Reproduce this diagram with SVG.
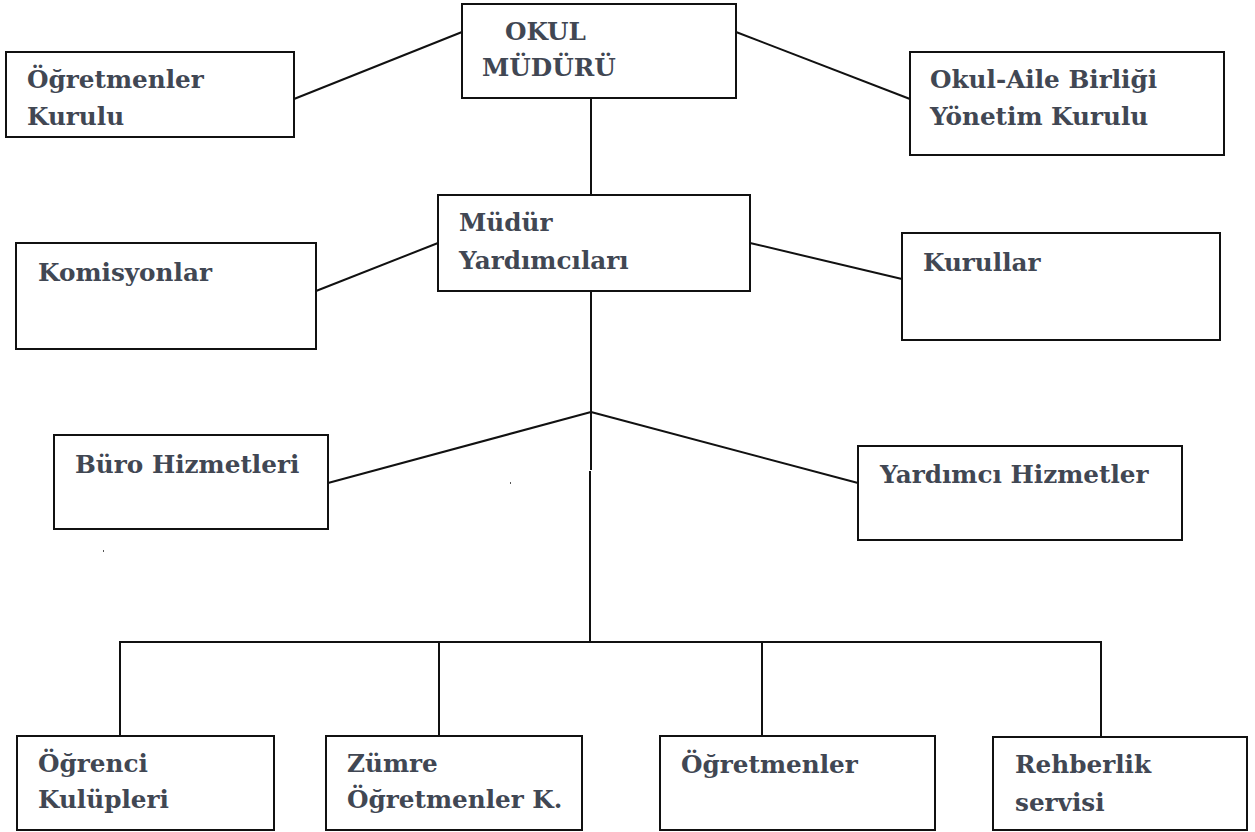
<svg xmlns="http://www.w3.org/2000/svg" width="1255" height="832" viewBox="0 0 1255 832">
<style>
.box{fill:#fff;stroke:#111;stroke-width:2}
.ln{stroke:#111;stroke-width:2;fill:none}
.t{font-family:"DejaVu Serif","Liberation Serif",serif;font-weight:bold;font-size:24.7px;fill:#414753}
</style>
<rect width="1255" height="832" fill="#fff"/>
<g id="connectors">
<line class="ln" x1="462" y1="32" x2="294" y2="99"/>
<line class="ln" x1="736" y1="32" x2="910" y2="99"/>
<line class="ln" x1="591" y1="98" x2="591" y2="195"/>
<line class="ln" x1="438" y1="243" x2="316" y2="291"/>
<line class="ln" x1="750" y1="243" x2="902" y2="279"/>
<line class="ln" x1="591" y1="279" x2="591" y2="470"/>
<line class="ln" x1="590" y1="471" x2="590" y2="642"/>
<line class="ln" x1="591" y1="412" x2="328" y2="483"/>
<line class="ln" x1="591" y1="412" x2="858" y2="483"/>
<polyline class="ln" points="120,736 120,642 1101,642 1101,737"/>
<line class="ln" x1="439" y1="642" x2="439" y2="735"/>
<line class="ln" x1="762" y1="642" x2="762" y2="736"/>
</g>
<g id="okul-muduru">
<rect class="box" x="462" y="4" width="274" height="94"/>
<text class="t" x="505" y="40">OKUL</text>
<text class="t" x="482" y="76">MÜDÜRÜ</text>
</g>
<g id="ogretmenler-kurulu">
<rect class="box" x="6" y="52" width="288" height="85"/>
<text class="t" x="27" y="88">Öğretmenler</text>
<text class="t" x="27" y="125">Kurulu</text>
</g>
<g id="okul-aile">
<rect class="box" x="910" y="52" width="314" height="103"/>
<text class="t" x="930" y="88">Okul-Aile Birliği</text>
<text class="t" x="930" y="125">Yönetim Kurulu</text>
</g>
<g id="mudur-yardimcilari">
<rect class="box" x="438" y="195" width="312" height="96"/>
<text class="t" x="459" y="231">Müdür</text>
<text class="t" x="459" y="269">Yardımcıları</text>
</g>
<g id="komisyonlar">
<rect class="box" x="16" y="243" width="300" height="106"/>
<text class="t" x="38" y="281">Komisyonlar</text>
</g>
<g id="kurullar">
<rect class="box" x="902" y="233" width="318" height="107"/>
<text class="t" x="923" y="271">Kurullar</text>
</g>
<g id="buro-hizmetleri">
<rect class="box" x="54" y="435" width="274" height="94"/>
<text class="t" x="75" y="473">Büro Hizmetleri</text>
</g>
<g id="yardimci-hizmetler">
<rect class="box" x="858" y="446" width="324" height="94"/>
<text class="t" x="880" y="483">Yardımcı Hizmetler</text>
</g>
<g id="ogrenci-kulupleri">
<rect class="box" x="17" y="736" width="257" height="94"/>
<text class="t" x="38" y="772">Öğrenci</text>
<text class="t" x="38" y="808">Kulüpleri</text>
</g>
<g id="zumre">
<rect class="box" x="326" y="736" width="256" height="94"/>
<text class="t" x="347" y="772">Zümre</text>
<text class="t" x="347" y="808">Öğretmenler K.</text>
</g>
<g id="ogretmenler">
<rect class="box" x="660" y="736" width="275" height="94"/>
<text class="t" x="681" y="773">Öğretmenler</text>
</g>
<g id="rehberlik">
<rect class="box" x="993" y="737" width="254" height="93"/>
<text class="t" x="1015" y="773">Rehberlik</text>
<text class="t" x="1015" y="811">servisi</text>
</g>
<rect x="510" y="482" width="1" height="2" fill="#555"/>
<rect x="103" y="550" width="1" height="2" fill="#555"/>
</svg>
